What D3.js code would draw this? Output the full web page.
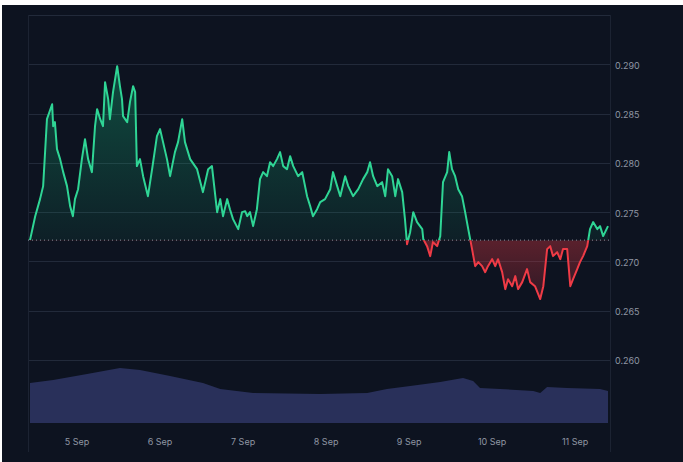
<!DOCTYPE html>
<html>
<head>
<meta charset="utf-8">
<script src="https://cdn.jsdelivr.net/npm/d3@7/dist/d3.min.js"></script>
<style>
  html, body { margin: 0; padding: 0; background: #ffffff; }
  svg { display: block; }
</style>
</head>
<body>
<svg id="chart" width="683" height="462"></svg>
<script>
// ---- Data (hours since 4 Sep 00:00, price in USD) ----
const priceHours = [10.4,11.9,13.3,14.2,15.3,16.8,17.1,17.6,18.2,19.1,20.0,21.1,22.0,22.8,23.4,24.3,25.4,26.3,27.2,28.3,29.2,29.8,30.7,31.5,32.1,33.0,33.5,34.4,35.6,36.4,37.0,37.3,38.5,39.3,40.2,40.8,41.3,42.2,43.1,44.5,45.7,47.1,48.0,50.0,50.9,52.3,53.2,54.4,55.2,56.7,58.7,60.4,61.9,63.0,64.5,65.4,66.2,67.4,68.2,69.1,70.6,71.7,72.6,73.2,74.0,74.9,76.0,76.9,77.8,78.9,79.8,80.7,81.8,82.7,83.6,84.7,85.6,86.5,87.9,89.1,90.5,91.4,92.2,93.4,94.3,95.7,97.2,98.0,99.2,100.1,101.5,102.4,103.8,105.3,106.7,107.9,108.7,109.6,110.8,112.2,113.1,113.9,115.1,116.0,116.8,118.0,118.8,119.4,120.3,121.2,122.3,123.8,124.1,125.2,126.1,126.9,128.1,129.0,129.8,131.0,131.6,132.4,133.3,134.2,135.3,136.2,137.1,138.2,139.1,140.0,141.1,142.0,142.8,144.0,144.9,145.7,146.9,147.8,148.6,149.8,150.7,151.5,152.7,154.1,155.0,156.4,157.9,158.8,159.9,160.8,161.6,162.8,163.7,164.5,165.7,166.6,167.4,168.6,169.4,170.3,171.5,172.3,173.2,174.4,175.2,176.1,177.5];
const prices = [0.27216,0.27459,0.27632,0.27764,0.28443,0.28595,0.28372,0.28413,0.28139,0.28038,0.27906,0.27764,0.27561,0.27459,0.27632,0.27733,0.28038,0.28240,0.28038,0.27906,0.28372,0.28545,0.28443,0.28372,0.28818,0.28646,0.28443,0.28717,0.28981,0.28778,0.28646,0.28474,0.28413,0.28616,0.28778,0.28717,0.27967,0.28038,0.27865,0.27662,0.27936,0.28271,0.28342,0.28038,0.27865,0.28109,0.28210,0.28443,0.28210,0.28038,0.27936,0.27703,0.27936,0.27967,0.27500,0.27632,0.27459,0.27632,0.27530,0.27429,0.27328,0.27500,0.27510,0.27459,0.27500,0.27358,0.27530,0.27835,0.27906,0.27865,0.28007,0.27967,0.28038,0.28109,0.27967,0.27936,0.28068,0.27967,0.27865,0.27906,0.27662,0.27561,0.27459,0.27530,0.27601,0.27632,0.27733,0.27906,0.27764,0.27662,0.27865,0.27764,0.27662,0.27733,0.27835,0.27906,0.28007,0.27865,0.27764,0.27804,0.27662,0.27936,0.27865,0.27662,0.27835,0.27703,0.27429,0.27175,0.27297,0.27500,0.27399,0.27328,0.27226,0.27155,0.27054,0.27196,0.27155,0.27257,0.27804,0.27906,0.28109,0.27936,0.27865,0.27733,0.27662,0.27500,0.27328,0.27125,0.26952,0.26993,0.26952,0.26891,0.26952,0.27023,0.26952,0.27023,0.26891,0.26719,0.26820,0.26749,0.26851,0.26719,0.26790,0.26922,0.26790,0.26749,0.26618,0.26749,0.27125,0.27155,0.27054,0.27094,0.27023,0.27125,0.27125,0.26749,0.26820,0.26922,0.26993,0.27054,0.27155,0.27328,0.27399,0.27328,0.27358,0.27257,0.27358];

const volumeHours = [10.4,17.1,26.9,36.4,42.2,50.9,60.4,65.4,74.9,94.3,107.9,113.6,120.3,129.0,133.9,135.6,138.5,140.5,146.3,155.9,157.9,159.9,165.7,175.2,177.5];
const volumes = [400,430,490,550,530,470,400,340,300,290,300,340,370,410,440,450,420,350,340,320,300,360,350,340,320]; // millions USD

const priceTicks = [0.260,0.265,0.270,0.275,0.280,0.285,0.290];
const gridTicks = [0.260,0.265,0.270,0.275,0.280,0.285,0.290,0.295];
const dayTicks = [5,6,7,8,9,10,11];

// ---- Setup ----
const base = new Date(2024, 8, 4, 0, 0, 0);
const toDate = h => new Date(base.getTime() + h * 3600 * 1000);
const priceData = priceHours.map((h, i) => ({ t: toDate(h), v: prices[i] }));
const volData = volumeHours.map((h, i) => ({ t: toDate(h), v: volumes[i] }));
const baseline = prices[0];

const svg = d3.select("#chart");
const W = 683, H = 462;
const left = 28, right = 610, plotLeft = 30, plotRight = 608;

svg.append("rect").attr("x", 0).attr("y", 0).attr("width", W).attr("height", H).attr("fill", "#ffffff");
svg.append("rect").attr("x", 2).attr("y", 5).attr("width", W - 2).attr("height", H - 5).attr("fill", "#0d1320");

const x = d3.scaleTime()
  .domain(d3.extent(priceData, d => d.t))
  .range([plotLeft, plotRight]);
const y = d3.scaleLinear().domain([0.260, 0.295]).range([360, 15]);
const yv = d3.scaleLinear().domain([0, 700]).range([423, 353]);

// gridlines
svg.append("g").selectAll("line").data(gridTicks).join("line")
  .attr("x1", left).attr("x2", right)
  .attr("y1", d => Math.round(y(d)) + 0.5).attr("y2", d => Math.round(y(d)) + 0.5)
  .attr("stroke", "#222a3a").attr("stroke-width", 1);
// vertical frame lines
svg.append("g").selectAll("line").data([left, right]).join("line")
  .attr("x1", d => d + 0.5).attr("x2", d => d + 0.5)
  .attr("y1", y(0.295)).attr("y2", 452)
  .attr("stroke", "#1c2332").attr("stroke-width", 1);

// volume area
svg.append("path").datum(volData)
  .attr("d", d3.area().x(d => x(d.t)).y0(yv(0)).y1(d => yv(d.v)))
  .attr("fill", "#29305a");

// gradients & clips
const defs = svg.append("defs");
const by = y(baseline);
const gGreen = defs.append("linearGradient").attr("id", "gGreen")
  .attr("gradientUnits", "userSpaceOnUse").attr("x1", 0).attr("x2", 0).attr("y1", y(0.290)).attr("y2", by);
gGreen.append("stop").attr("offset", 0).attr("stop-color", "#16c784").attr("stop-opacity", 0.32);
gGreen.append("stop").attr("offset", 1).attr("stop-color", "#16c784").attr("stop-opacity", 0.07);
const gRed = defs.append("linearGradient").attr("id", "gRed")
  .attr("gradientUnits", "userSpaceOnUse").attr("x1", 0).attr("x2", 0).attr("y1", by).attr("y2", y(0.266));
gRed.append("stop").attr("offset", 0).attr("stop-color", "#ea3943").attr("stop-opacity", 0.35);
gRed.append("stop").attr("offset", 1).attr("stop-color", "#ea3943").attr("stop-opacity", 0.15);

defs.append("clipPath").attr("id", "clipUp").append("rect")
  .attr("x", 0).attr("y", 0).attr("width", W).attr("height", by);
defs.append("clipPath").attr("id", "clipDown").append("rect")
  .attr("x", 0).attr("y", by).attr("width", W).attr("height", H - by);

const area = d3.area().x(d => x(d.t)).y0(by).y1(d => y(d.v));
const line = d3.line().x(d => x(d.t)).y(d => y(d.v));

svg.append("path").datum(priceData).attr("d", area).attr("fill", "url(#gGreen)").attr("clip-path", "url(#clipUp)");
svg.append("path").datum(priceData).attr("d", area).attr("fill", "url(#gRed)").attr("clip-path", "url(#clipDown)");

// baseline dotted
svg.append("line")
  .attr("x1", left).attr("x2", right).attr("y1", by).attr("y2", by)
  .attr("stroke", "#8b909c").attr("stroke-width", 1).attr("stroke-dasharray", "1,3");

svg.append("path").datum(priceData).attr("d", line)
  .attr("fill", "none").attr("stroke", "#2fd595").attr("stroke-width", 2)
  .attr("stroke-linejoin", "round").attr("clip-path", "url(#clipUp)");
svg.append("path").datum(priceData).attr("d", line)
  .attr("fill", "none").attr("stroke", "#ef3b46").attr("stroke-width", 2)
  .attr("stroke-linejoin", "round").attr("clip-path", "url(#clipDown)");

// y axis labels (right)
svg.append("g").selectAll("text").data(priceTicks).join("text")
  .attr("x", 615).attr("y", d => y(d) + 2)
  .attr("dominant-baseline", "middle")
  .attr("font-family", "Inter, 'Noto Sans', sans-serif").attr("font-size", 9)
  .attr("fill", "#8f96a3")
  .text(d => d3.format(".3f")(d));

// x axis labels
svg.append("g").selectAll("text").data(dayTicks).join("text")
  .attr("x", d => x(new Date(2024, 8, d)))
  .attr("y", 443)
  .attr("text-anchor", "middle").attr("dominant-baseline", "middle")
  .attr("font-family", "Inter, 'Noto Sans', sans-serif").attr("font-size", 9)
  .attr("fill", "#8f96a3")
  .text(d => d + " Sep");
</script>
</body>
</html>
